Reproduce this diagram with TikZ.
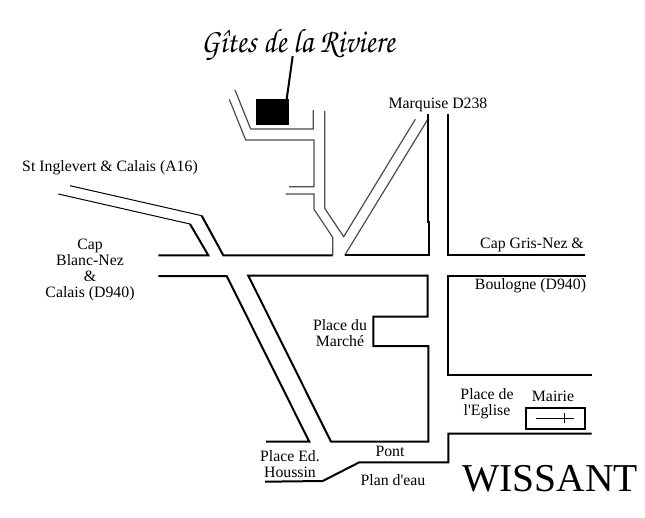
\documentclass[tikz,border=0pt]{standalone}
\usepackage[T1,TU]{fontenc}
\usepackage{fontspec}
\setmainfont{Liberation Serif}[Ligatures=TeXOff]
\usepackage{tikz}
\tikzset{
	mainroad/.style={line width=2pt, color=black},
	sideroad/.style={line width=1.2pt, color=black!70},
	lbl/.style={inner sep=0pt, align=center, font=\fontsize{15.8}{16}\selectfont},
}
\begin{document}
\begin{tikzpicture}[x=1pt, y=-1pt]
		%%%%% START %%%%%
		\useasboundingbox (0, 0) rectangle (645, 517);
		
		% house and its name
		\fill[black] (256, 99) rectangle (289, 125);
		\draw[line width=2pt] (292.7, 56) -- (286.7, 99);
		\node[inner sep=0pt] (gites) at (298, 45) {\scalebox{0.885}[1]{\fontencoding{T1}\fontfamily{pzc}\fontsize{34}{36}\selectfont G\^ites de la Riviere}};
		
		% small roads round the house
		\draw[sideroad] (235, 90) -- (250.7, 129) -- (313.3, 129) -- (313.3, 110);
		\draw[sideroad] (229.3, 99.3) -- (245.7, 140) -- (314, 140) -- (314, 186.7) -- (289, 186.7);
		\draw[sideroad] (285.7, 194) -- (314, 194) -- (314, 209.3) -- (332.7, 237.3) -- (332.7, 255.3);
		\draw[sideroad] (324.7, 111) -- (324.7, 208.3) -- (343.7, 236.7) -- (415.3, 119.3);
		\draw[sideroad] (428, 119) -- (344.7, 255.3);
		
		% Marquise road
		\draw[mainroad] (428, 114.3) -- (428, 221.7) -- (429.3, 221.7) -- (429.3, 255.3) -- (344.7, 255.3);
		\draw[mainroad] (448, 114.3) -- (448, 255.3) -- (585, 255.3);
		
		% A16
		\draw[line width=1pt] (58.3, 194) -- (190, 224);
		\draw[mainroad] (190, 224) -- (208.3, 255.3) -- (158.3, 255.3);
		\draw[line width=1pt] (70, 185.7) -- (201.7, 215.7);
		\draw[mainroad] (201.7, 215.7) -- (223.3, 255.3) -- (332.7, 255.3);
		
		% main street
		\draw[mainroad] (158.3, 276) -- (226.7, 276) -- (309.3, 441.7) -- (266, 441.7);
		\draw[mainroad] (248.3, 275.7) -- (331, 441.7) -- (428.3, 441.7) -- (428.3, 346) -- (373.3, 346) -- (373.3, 316.7) -- (427.7, 316.7) -- (427.7, 275.7) -- cycle;
		\draw[mainroad] (586, 275.7) -- (448.3, 275.7) -- (448.3, 375) -- (591.7, 375);
		\draw[mainroad] (591.7, 433.7) -- (448.3, 433.7) -- (448.3, 462.3) -- (359.3, 462.3) -- (322.7, 481) -- (265, 481.7);
		
		% mairie
		\draw[mainroad] (525.7, 407.7) rectangle (585.3, 429);
		\draw[line width=1.6pt] (536, 418.3) -- (574.3, 418.3);
		\draw[line width=1.6pt] (564.3, 412.7) -- (564.3, 423.3);
		
		% names
		\node[lbl] (marquise) at (438, 105) {Marquise D238};
		\node[lbl] (inglevert) at (110, 168) {St Inglevert \& Calais (A16)};
		\node[lbl] (cap) at (90, 270) {Cap\\Blanc-Nez\\\&\\Calais (D940)};
		\node[lbl] (grisnez) at (532, 245) {Cap Gris-Nez \&};
		\node[lbl] (boulogne) at (530.5, 286) {Boulogne (D940)};
		\node[lbl] (marche) at (340, 333) {Place du\\Marché};
		\node[lbl] (eglise) at (487, 404) {Place de\\l'Eglise};
		\node[lbl] (mairielbl) at (553, 396) {Mairie};
		\node[lbl] (pont) at (390, 451) {Pont};
		\node[lbl] (houssin) at (290, 464) {Place Ed.\\Houssin};
		\node[lbl] (eau) at (393, 480) {Plan d'eau};
		\node[inner sep=0pt, font=\fontsize{39.5}{42}\selectfont] (wissant) at (550, 479) {WISSANT};
		
		%%%%% END %%%%%
	\end{tikzpicture}
\end{document}
